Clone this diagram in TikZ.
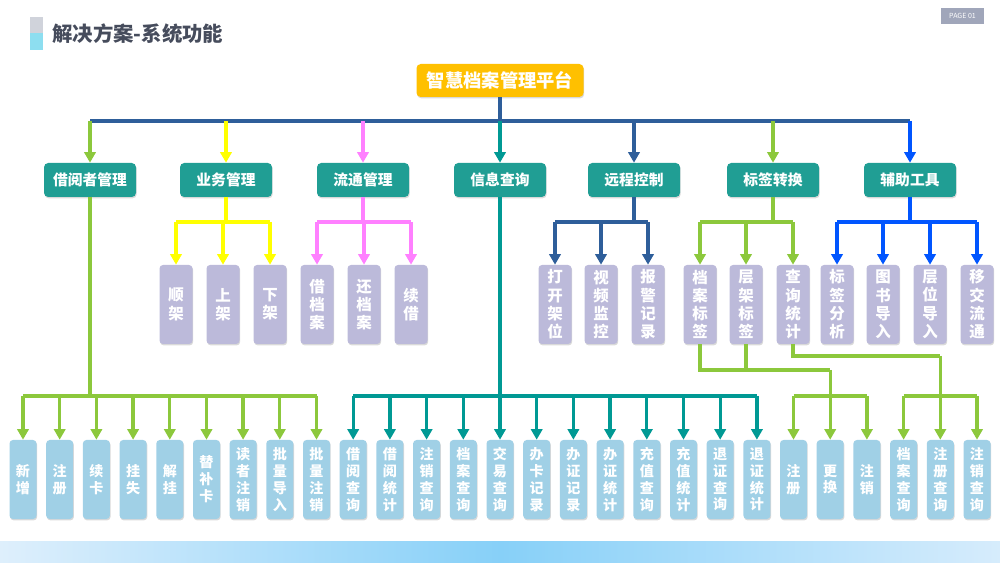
\documentclass[tikz,border=0pt]{standalone}
\usepackage{fontspec}
\setmainfont{Noto Sans CJK SC}
\usetikzlibrary{arrows.meta,shadows}

\definecolor{titletext}{RGB}{70,76,92}
\definecolor{titlegray}{RGB}{208,211,219}
\definecolor{titlecyan}{RGB}{141,222,240}
\definecolor{pagegray}{RGB}{160,166,186}
\definecolor{platyellow}{RGB}{255,192,0}
\definecolor{modteal}{RGB}{32,158,148}
\definecolor{itempurple}{RGB}{188,186,218}
\definecolor{leafblue}{RGB}{160,208,230}
\definecolor{lngreen}{RGB}{140,200,60}
\definecolor{lnyellow}{RGB}{255,255,0}
\definecolor{lnpink}{RGB}{255,128,255}
\definecolor{lnteal}{RGB}{0,153,148}
\definecolor{lndark}{RGB}{46,94,154}
\definecolor{lnblue}{RGB}{0,85,255}
\definecolor{bandleft}{RGB}{222,239,252}
\definecolor{bandmid}{RGB}{135,208,248}
\definecolor{bandright}{RGB}{214,236,252}

\tikzset{
  platbox/.style={fill=platyellow, rounded corners=3pt, text=white, font=\bfseries\fontsize{13}{15}\selectfont,
    minimum width=167*0.025cm, minimum height=33*0.025cm, inner sep=0pt,
    drop shadow={shadow xshift=0.5pt, shadow yshift=-1pt, opacity=0.3}},
  modbox/.style={fill=modteal, rounded corners=3pt, text=white, font=\bfseries\fontsize{10.5}{12}\selectfont,
    minimum width=92*0.025cm, minimum height=34*0.025cm, inner sep=0pt,
    drop shadow={shadow xshift=0.5pt, shadow yshift=-1pt, opacity=0.3}},
  itembox/.style={fill=itempurple, rounded corners=2.5pt, text=white, font=\bfseries\fontsize{11}{13}\selectfont,
    align=center, minimum width=33*0.025cm, minimum height=79*0.025cm, inner sep=0pt,
    drop shadow={shadow xshift=0.5pt, shadow yshift=-1pt, opacity=0.3}},
  leafbox/.style={fill=leafblue, rounded corners=2.5pt, text=white, font=\bfseries\fontsize{10}{12}\selectfont,
    align=center, minimum width=27*0.025cm, minimum height=79*0.025cm, inner sep=0pt,
    drop shadow={shadow xshift=0.5pt, shadow yshift=-1pt, opacity=0.3}},
  ln/.style={line width=2.4pt},
  arr/.style={line width=2.4pt, -{Triangle[width=8pt,length=7.5pt]}}
}

\begin{document}
\begin{tikzpicture}[x=0.025cm,y=-0.025cm]
\useasboundingbox (0,0) rectangle (1000,563);

% header
\fill[titlegray] (30,17) rectangle (43,33);
\fill[titlecyan] (30,33) rectangle (43,50);
\node[anchor=west, inner sep=0pt, text=titletext, font=\bfseries\fontsize{14.5}{17}\selectfont] (title) at (52,34) {解决方案-系统功能};
\node[fill=pagegray, text=white, font=\fontsize{5}{6}\selectfont, minimum width=43*0.025cm, minimum height=16*0.025cm, inner sep=0pt] (page) at (962.5,16) {PAGE 01};

% bottom band
\shade[left color=bandleft, right color=bandright, middle color=bandmid] (0,541) rectangle (1000,563);

% platform and modules
\node[platbox] (plat) at (500,80.5) {智慧档案管理平台};

\node[modbox] (jyz) at (90,180) {借阅者管理};
\node[modbox] (ywgl) at (226,180) {业务管理};
\node[modbox] (ltgl) at (363,180) {流通管理};
\node[modbox] (xxcx) at (500,180) {信息查询};
\node[modbox] (ycky) at (634,180) {远程控制};
\node[modbox] (bqzh) at (773,180) {标签转换};
\node[modbox] (fzgj) at (910,180) {辅助工具};

% middle row
\node[itembox] (sj) at (176,304.5) {顺\\架};
\node[itembox] (shj) at (223,304.5) {上\\架};
\node[itembox] (xj) at (270,304.5) {下\\架};
\node[itembox] (jda) at (317,304.5) {借\\档\\案};
\node[itembox] (hda) at (364,304.5) {还\\档\\案};
\node[itembox] (xjie) at (411,304.5) {续\\借};
\node[itembox] (dkjw) at (555,304.5) {打\\开\\架\\位};
\node[itembox] (spjk) at (601,304.5) {视\\频\\监\\控};
\node[itembox] (bjjl) at (648,304.5) {报\\警\\记\\录};
\node[itembox] (dabq) at (700,304.5) {档\\案\\标\\签};
\node[itembox] (cjbq) at (746,304.5) {层\\架\\标\\签};
\node[itembox] (cxtj) at (793,304.5) {查\\询\\统\\计};
\node[itembox] (bqfx) at (837,304.5) {标\\签\\分\\析};
\node[itembox] (tsdr) at (883,304.5) {图\\书\\导\\入};
\node[itembox] (cwdr) at (930,304.5) {层\\位\\导\\入};
\node[itembox] (yjlt) at (977,304.5) {移\\交\\流\\通};

% bottom row
\node[leafbox] (jz1) at (23,479.5) {新\\增};
\node[leafbox] (jz2) at (59.7,479.5) {注\\册};
\node[leafbox] (jz3) at (96.4,479.5) {续\\卡};
\node[leafbox] (jz4) at (133.1,479.5) {挂\\失};
\node[leafbox] (jz5) at (169.8,479.5) {解\\挂};
\node[leafbox] (jz6) at (206.5,479.5) {替\\补\\卡};
\node[leafbox] (jz7) at (243.1,479.5) {读\\者\\注\\销};
\node[leafbox] (jz8) at (279.8,479.5) {批\\量\\导\\入};
\node[leafbox] (jz9) at (316.5,479.5) {批\\量\\注\\销};
\node[leafbox] (cx1) at (353.2,479.5) {借\\阅\\查\\询};
\node[leafbox] (cx2) at (389.9,479.5) {借\\阅\\统\\计};
\node[leafbox] (cx3) at (426.6,479.5) {注\\销\\查\\询};
\node[leafbox] (cx4) at (463.3,479.5) {档\\案\\查\\询};
\node[leafbox] (cx5) at (500,479.5) {交\\易\\查\\询};
\node[leafbox] (cx6) at (536.7,479.5) {办\\卡\\记\\录};
\node[leafbox] (cx7) at (573.4,479.5) {办\\证\\记\\录};
\node[leafbox] (cx8) at (610.1,479.5) {办\\证\\统\\计};
\node[leafbox] (cx9) at (646.8,479.5) {充\\值\\查\\询};
\node[leafbox] (cx10) at (683.5,479.5) {充\\值\\统\\计};
\node[leafbox] (cx11) at (720.2,479.5) {退\\证\\查\\询};
\node[leafbox] (cx12) at (756.9,479.5) {退\\证\\统\\计};
\node[leafbox] (hz1) at (793.5,479.5) {注\\册};
\node[leafbox] (hz2) at (830.2,479.5) {更\\换};
\node[leafbox] (hz3) at (866.9,479.5) {注\\销};
\node[leafbox] (tj1) at (903.6,479.5) {档\\案\\查\\询};
\node[leafbox] (tj2) at (940.3,479.5) {注\\册\\查\\询};
\node[leafbox] (tj3) at (977,479.5) {注\\销\\查\\询};

% bus levels
\coordinate (busA) at (0,121);
\coordinate (busB) at (0,222);
\coordinate (busC) at (0,396);
\coordinate (busD) at (0,370);
\coordinate (busE) at (0,356);

% platform -> modules
\draw[ln, lndark] (plat.south) -- (plat.south |- busA);
\draw[ln, lndark] (busA -| jyz) -- (busA -| fzgj);
\draw[arr, lngreen] (busA -| jyz) -- (jyz.north);
\draw[arr, lnyellow] (busA -| ywgl) -- (ywgl.north);
\draw[arr, lnpink] (busA -| ltgl) -- (ltgl.north);
\draw[arr, lnteal] (busA -| xxcx) -- (xxcx.north);
\draw[arr, lndark] (busA -| ycky) -- (ycky.north);
\draw[arr, lngreen] (busA -| bqzh) -- (bqzh.north);
\draw[arr, lnblue] (busA -| fzgj) -- (fzgj.north);

% 业务管理
\draw[ln, lnyellow] (ywgl.south) -- (ywgl |- busB);
\draw[ln, lnyellow] (busB -| sj) -- (busB -| xj);
\draw[arr, lnyellow] (busB -| sj) -- (sj.north);
\draw[arr, lnyellow] (busB -| shj) -- (shj.north);
\draw[arr, lnyellow] (busB -| xj) -- (xj.north);

% 流通管理
\draw[ln, lnpink] (ltgl.south) -- (ltgl |- busB);
\draw[ln, lnpink] (busB -| jda) -- (busB -| xjie);
\draw[arr, lnpink] (busB -| jda) -- (jda.north);
\draw[arr, lnpink] (busB -| hda) -- (hda.north);
\draw[arr, lnpink] (busB -| xjie) -- (xjie.north);

% 远程控制
\draw[ln, lndark] (ycky.south) -- (ycky |- busB);
\draw[ln, lndark] (busB -| dkjw) -- (busB -| bjjl);
\draw[arr, lndark] (busB -| dkjw) -- (dkjw.north);
\draw[arr, lndark] (busB -| spjk) -- (spjk.north);
\draw[arr, lndark] (busB -| bjjl) -- (bjjl.north);

% 标签转换
\draw[ln, lngreen] (bqzh.south) -- (bqzh |- busB);
\draw[ln, lngreen] (busB -| dabq) -- (busB -| cxtj);
\draw[arr, lngreen] (busB -| dabq) -- (dabq.north);
\draw[arr, lngreen] (busB -| cjbq) -- (cjbq.north);
\draw[arr, lngreen] (busB -| cxtj) -- (cxtj.north);

% 辅助工具
\draw[ln, lnblue] (fzgj.south) -- (fzgj |- busB);
\draw[ln, lnblue] (busB -| bqfx) -- (busB -| yjlt);
\draw[arr, lnblue] (busB -| bqfx) -- (bqfx.north);
\draw[arr, lnblue] (busB -| tsdr) -- (tsdr.north);
\draw[arr, lnblue] (busB -| cwdr) -- (cwdr.north);
\draw[arr, lnblue] (busB -| yjlt) -- (yjlt.north);

% 借阅者管理
\draw[ln, lngreen] (jyz.south) -- (jyz |- busC);
\draw[ln, lngreen] (busC -| jz1) -- (busC -| jz9);
\draw[arr, lngreen] (busC -| jz1) -- (jz1.north);
\draw[arr, lngreen] (busC -| jz2) -- (jz2.north);
\draw[arr, lngreen] (busC -| jz3) -- (jz3.north);
\draw[arr, lngreen] (busC -| jz4) -- (jz4.north);
\draw[arr, lngreen] (busC -| jz5) -- (jz5.north);
\draw[arr, lngreen] (busC -| jz6) -- (jz6.north);
\draw[arr, lngreen] (busC -| jz7) -- (jz7.north);
\draw[arr, lngreen] (busC -| jz8) -- (jz8.north);
\draw[arr, lngreen] (busC -| jz9) -- (jz9.north);

% 信息查询
\draw[ln, lnteal] (xxcx.south) -- (xxcx |- busC);
\draw[ln, lnteal] (busC -| cx1) -- (busC -| cx12);
\draw[arr, lnteal] (busC -| cx1) -- (cx1.north);
\draw[arr, lnteal] (busC -| cx2) -- (cx2.north);
\draw[arr, lnteal] (busC -| cx3) -- (cx3.north);
\draw[arr, lnteal] (busC -| cx4) -- (cx4.north);
\draw[arr, lnteal] (busC -| cx5) -- (cx5.north);
\draw[arr, lnteal] (busC -| cx6) -- (cx6.north);
\draw[arr, lnteal] (busC -| cx7) -- (cx7.north);
\draw[arr, lnteal] (busC -| cx8) -- (cx8.north);
\draw[arr, lnteal] (busC -| cx9) -- (cx9.north);
\draw[arr, lnteal] (busC -| cx10) -- (cx10.north);
\draw[arr, lnteal] (busC -| cx11) -- (cx11.north);
\draw[arr, lnteal] (busC -| cx12) -- (cx12.north);

% 档案标签 / 层架标签
\draw[ln, lngreen] (dabq.south) -- (dabq |- busD) -- (busD -| hz2);
\draw[ln, lngreen] (cjbq.south) -- (cjbq |- busD);
\draw[ln, lngreen] (busC -| hz1) -- (busC -| hz3);
\draw[arr, lngreen] (busD -| hz2) -- (hz2.north);
\draw[arr, lngreen] (busC -| hz1) -- (hz1.north);
\draw[arr, lngreen] (busC -| hz3) -- (hz3.north);

% 查询统计
\draw[ln, lngreen] (cxtj.south) -- (cxtj |- busE) -- (busE -| tj2);
\draw[ln, lngreen] (busC -| tj1) -- (busC -| tj3);
\draw[arr, lngreen] (busE -| tj2) -- (tj2.north);
\draw[arr, lngreen] (busC -| tj1) -- (tj1.north);
\draw[arr, lngreen] (busC -| tj3) -- (tj3.north);
\end{tikzpicture}
\end{document}
